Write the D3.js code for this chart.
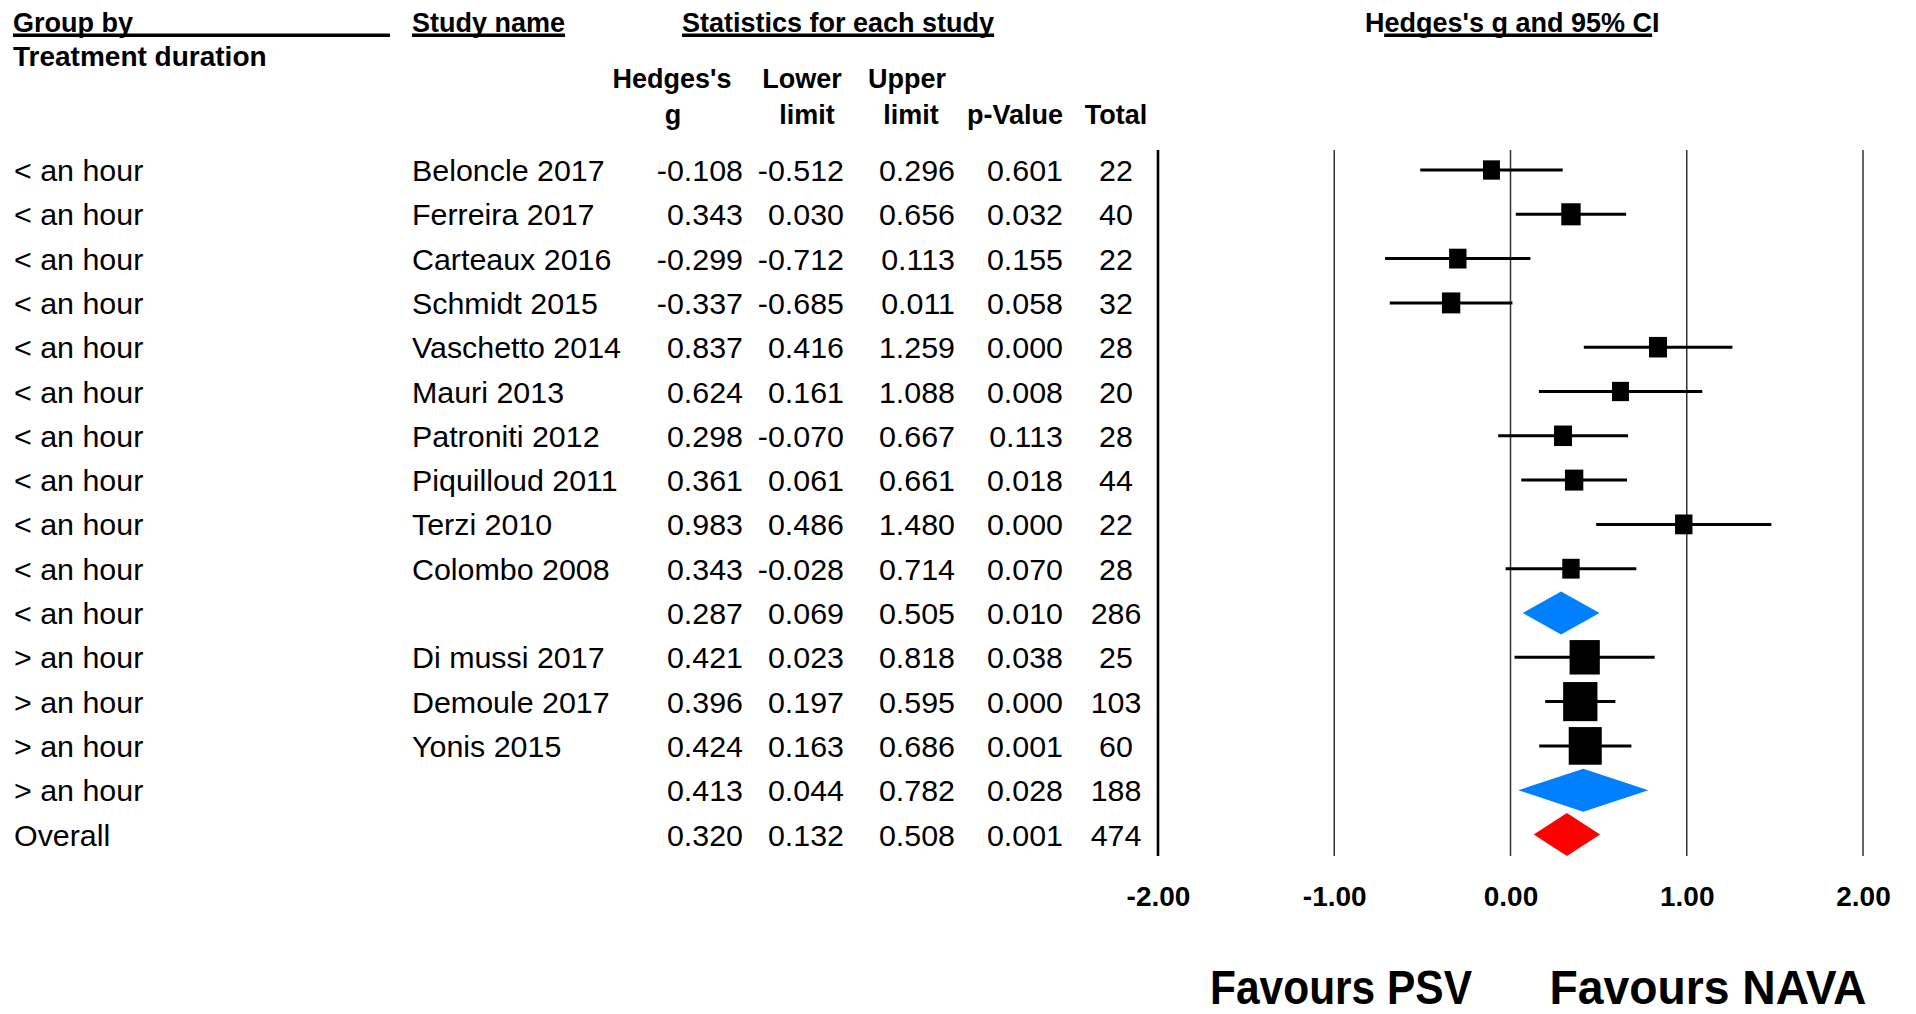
<!DOCTYPE html>
<html>
<head>
<meta charset="utf-8">
<script src="https://cdn.jsdelivr.net/npm/d3@7"></script>
<style>
  html, body { margin: 0; padding: 0; background: #fff; }
  svg { display: block; }
  text { font-family: "Liberation Sans", Arial, Helvetica, sans-serif; fill: #000; }
</style>
</head>
<body>
<svg id="chart" width="1916" height="1014"></svg>
<script>
// ---------------- DATA ----------------
const groups = ["< an hour","< an hour","< an hour","< an hour","< an hour","< an hour","< an hour","< an hour","< an hour","< an hour","< an hour",
                "> an hour","> an hour","> an hour","> an hour","Overall"];
const studies = ["Beloncle 2017","Ferreira 2017","Carteaux 2016","Schmidt 2015","Vaschetto 2014","Mauri 2013","Patroniti 2012","Piquilloud 2011","Terzi 2010","Colombo 2008","",
                 "Di mussi 2017","Demoule 2017","Yonis 2015","",""];
const rowType = ["study","study","study","study","study","study","study","study","study","study","subgroup",
                 "study","study","study","subgroup","overall"];
const hedgesG = [-0.108,0.343,-0.299,-0.337,0.837,0.624,0.298,0.361,0.983,0.343,0.287,0.421,0.396,0.424,0.413,0.320];
const lowerLimit = [-0.512,0.030,-0.712,-0.685,0.416,0.161,-0.070,0.061,0.486,-0.028,0.069,0.023,0.197,0.163,0.044,0.132];
const upperLimit = [0.296,0.656,0.113,0.011,1.259,1.088,0.667,0.661,1.480,0.714,0.505,0.818,0.595,0.686,0.782,0.508];
const pValue = [0.601,0.032,0.155,0.058,0.000,0.008,0.113,0.018,0.000,0.070,0.010,0.038,0.000,0.001,0.028,0.001];
const total = [22,40,22,32,28,20,28,44,22,28,286,25,103,60,188,474];
// relative weight (%) within subgroup
const weights = [9.0,11.8,9.5,10.6,10.2,9.0,10.2,10.6,9.5,9.5,null,28.7,37.0,34.3,null,null];
const tickValues = [-2,-1,0,1,2];
const sideLabels = ["Favours PSV","Favours NAVA"];

const rows = groups.map((grp,i)=>({
  group: grp, study: studies[i], type: rowType[i], g: hedgesG[i], lo: lowerLimit[i],
  hi: upperLimit[i], p: pValue[i], n: total[i], w: weights[i]
}));

// ---------------- LAYOUT ----------------
const svg = d3.select("#chart");
svg.append("rect").attr("width",1916).attr("height",1014).attr("fill","#fff");

const loc = d3.formatLocale({decimal:".", thousands:",", grouping:[3], currency:["",""], minus:"-"});
const f3 = loc.format(".3f");
const f2 = loc.format(".2f");

const rowTop = 170, rowStep = 44.3;
const y = d3.scaleLinear().domain([0, rows.length-1]).range([rowTop, rowTop + rowStep*(rows.length-1)]);
const x = d3.scaleLinear().domain([-2, 2]).range([1158, 1863]);
const boxSide = d3.scaleSqrt().domain([0,100]).range([0,56.4]);

const rowFont = 30.4, hdrFont = 27, colFont = 27;

// --- top headers with underlines
function hdr(text, xx, ulStart, ulEnd){
  const t = svg.append("text").attr("x", xx).attr("y", 32)
    .attr("font-size", hdrFont).attr("font-weight","bold").text(text);
  const w = t.node().getComputedTextLength();
  const s = ulStart == null ? xx : ulStart(w);
  const e = ulEnd == null ? xx + w : ulEnd(w);
  svg.append("rect").attr("x", s).attr("y", 33.5).attr("width", e - s).attr("height", 3.5).attr("fill","#000");
}
hdr("Group by", 13, null, ()=>390);
hdr("Study name", 412);
hdr("Statistics for each study", 682);
hdr("Hedges's g and 95% CI", 1365, w=>1365 + w*0.065, w=>1365 + w*0.975);

svg.append("text").attr("x",13).attr("y",66).attr("font-size",28).attr("font-weight","bold")
  .text("Treatment duration");

// --- column headers
const colHeads = [
  {t:"Hedges's", x:672, l:0},{t:"g", x:673, l:1},
  {t:"Lower", x:802, l:0},{t:"limit", x:807, l:1},
  {t:"Upper", x:907, l:0},{t:"limit", x:911, l:1},
  {t:"p-Value", x:1015, l:1},{t:"Total", x:1116, l:1}
];
svg.selectAll("text.colhead").data(colHeads).enter().append("text")
  .attr("class","colhead")
  .attr("x", d=>d.x).attr("y", d=> d.l ? 124 : 88)
  .attr("text-anchor","middle").attr("font-size",colFont).attr("font-weight","bold")
  .text(d=>d.t);

// --- row text
const baseOff = 11;
const rowG = svg.selectAll("g.row").data(rows).enter().append("g").attr("class","row")
  .attr("transform",(d,i)=>`translate(0,${y(i)+baseOff})`);
rowG.append("text").attr("x",14).attr("font-size",rowFont).text(d=>d.group);
rowG.append("text").attr("x",412).attr("font-size",rowFont).text(d=>d.study);
rowG.append("text").attr("x",743).attr("text-anchor","end").attr("font-size",rowFont).text(d=>f3(d.g));
rowG.append("text").attr("x",844).attr("text-anchor","end").attr("font-size",rowFont).text(d=>f3(d.lo));
rowG.append("text").attr("x",955).attr("text-anchor","end").attr("font-size",rowFont).text(d=>f3(d.hi));
rowG.append("text").attr("x",1063).attr("text-anchor","end").attr("font-size",rowFont).text(d=>f3(d.p));
rowG.append("text").attr("x",1116).attr("text-anchor","middle").attr("font-size",rowFont).text(d=>d.n);

// --- vertical grid lines
const gTop = 150, gBot = 856;
svg.selectAll("line.grid").data(tickValues).enter().append("line")
  .attr("class","grid")
  .attr("x1",d=>x(d)).attr("x2",d=>x(d)).attr("y1",gTop).attr("y2",gBot)
  .attr("stroke", d=> d === -2 ? "#000" : "#333")
  .attr("stroke-width", d=> d === -2 ? 2.6 : 1.5);

// --- study CIs and boxes
const studyRows = rows.map((d,i)=>({...d, i})).filter(d=>d.type==="study");
svg.selectAll("line.ci").data(studyRows).enter().append("line")
  .attr("class","ci")
  .attr("x1",d=>x(d.lo)).attr("x2",d=>x(d.hi))
  .attr("y1",d=>y(d.i)).attr("y2",d=>y(d.i))
  .attr("stroke","#000").attr("stroke-width",3);
svg.selectAll("rect.box").data(studyRows).enter().append("rect")
  .attr("class","box")
  .attr("x",d=>x(d.g)-boxSide(d.w)/2)
  .attr("y",d=>y(d.i)-boxSide(d.w)*1.14/2)
  .attr("width",d=>boxSide(d.w))
  .attr("height",d=>boxSide(d.w)*1.14)
  .attr("fill","#000");

// --- summary diamonds
const sumRows = rows.map((d,i)=>({...d, i})).filter(d=>d.type!=="study");
const dh = 21.5;
svg.selectAll("path.diamond").data(sumRows).enter().append("path")
  .attr("class","diamond")
  .attr("d", d=>{
    const yc = y(d.i);
    return d3.line()([[x(d.lo),yc],[x(d.g),yc-dh],[x(d.hi),yc],[x(d.g),yc+dh]]) + "Z";
  })
  .attr("fill", d=> d.type==="overall" ? "#FF0000" : "#0080FF");

// --- axis tick labels
const axis = d3.axisBottom(x).tickValues(tickValues).tickFormat(f2).tickSize(0).tickPadding(0);
const axG = svg.append("g").attr("transform","translate(0,886)").call(axis);
axG.select(".domain").remove();
axG.selectAll("text").attr("font-size",28).attr("font-weight","bold")
  .attr("font-family",'"Liberation Sans", Arial, sans-serif').attr("fill","#000");

// --- favours labels
const favX = [1341, 1708], favW = [262, 317];
svg.selectAll("text.fav").data(sideLabels).enter().append("text")
  .attr("class","fav")
  .attr("x",(d,i)=>favX[i]).attr("y",1004)
  .attr("text-anchor","middle").attr("font-size",48).attr("font-weight","bold")
  .attr("textLength",(d,i)=>favW[i]).attr("lengthAdjust","spacingAndGlyphs")
  .text(d=>d);
</script>
</body>
</html>
